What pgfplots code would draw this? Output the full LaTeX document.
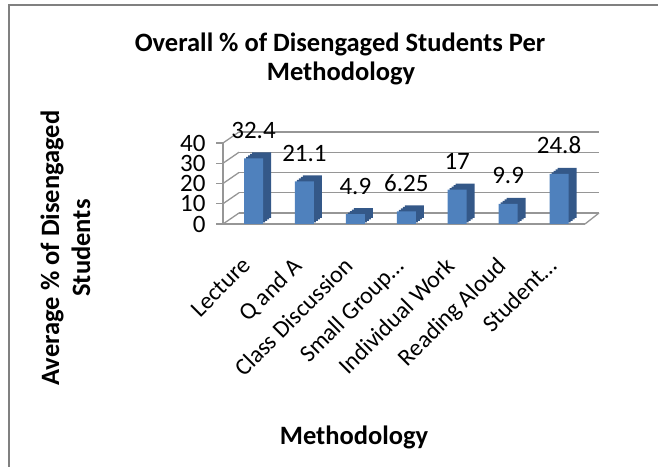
\documentclass[border=0pt]{standalone}
\usepackage{pgfplots}
\pgfplotsset{compat=1.18}
\usepackage{pgfplotstable}
\usepackage{fontspec}
\setmainfont{Carlito}
\definecolor{barfront}{RGB}{79,129,189}
\definecolor{barside}{RGB}{52,88,136}
\definecolor{gridc}{RGB}{150,150,150}
\definecolor{framec}{RGB}{128,128,128}

\pgfplotstableread{
x val
0 32.4
1 21.1
2 4.9
3 6.25
4 17
5 9.9
6 24.8
}\datatable

\newcommand{\fs}{\fontsize{25bp}{29bp}\selectfont}
\newcommand{\fx}{\fontsize{24bp}{28bp}\selectfont}
\newcommand{\fb}{\fontsize{26.5bp}{31bp}\selectfont\bfseries}

\begin{document}
\begin{tikzpicture}[x=1bp,y=1bp]
\useasboundingbox (0,0) rectangle (658,467);
\draw[framec, line width=2bp] (9,-5) -- (9,462) -- (665,462);

% back wall gridlines
\begin{axis}[
  at={(239bp,254bp)}, anchor=south west,
  scale only axis, width=360bp, height=81bp,
  xmin=-0.6, xmax=6.51, ymin=0, ymax=40,
  ytick={0,10,20,30,40}, yticklabels={}, xtick=\empty,
  ymajorgrids, grid style={gridc, line width=1.3bp},
  axis line style={draw=none}, major tick style={draw=none},
]
\end{axis}

% front axis with bars
\begin{axis}[
  at={(223bp,243bp)}, anchor=south west,
  scale only axis, width=362bp, height=81bp,
  xmin=-0.6, xmax=6.51, ymin=0, ymax=40,
  clip=false,
  /pgf/number format/assume math mode=true,
  axis lines*=left,
  axis line style={gridc, line width=1.3bp},
  ytick={0,10,20,30,40},
  ytick style={gridc, line width=1.3bp},
  tick align=outside, major tick length=7bp,
  yticklabel style={font=\fs, xshift=-7bp},
  xtick={0,1,2,3,4,5,6},
  xticklabels={Lecture, Q and A, Class Discussion, Small Group\ldots, Individual Work, Reading Aloud, Student\ldots},
  xtick style={draw=none},
  xticklabel style={font=\fx, rotate=45, anchor=north east, yshift=-5bp, xshift=-23bp},
]
\pgfplotsinvokeforeach{0,10,20,30,40}{
  \draw[gridc, line width=1.3bp] (axis cs:-0.6,#1) -- ++(16bp,11bp);
}
\draw[gridc, line width=1.3bp] (axis cs:6.51,0) -- ++(14bp,11bp);
\addplot[ybar, bar width=19bp, fill=barside, draw=none, bar shift=2bp, yshift=1.5bp] table[x=x,y=val] {\datatable};
\addplot[ybar, bar width=19bp, fill=barside, draw=none, bar shift=4bp, yshift=3bp] table[x=x,y=val] {\datatable};
\addplot[ybar, bar width=19bp, fill=barside, draw=none, bar shift=6bp, yshift=4.5bp] table[x=x,y=val] {\datatable};
\addplot[ybar, bar width=19bp, fill=barside, draw=none, bar shift=8bp, yshift=6bp] table[x=x,y=val] {\datatable};
\addplot[ybar, bar width=19bp, fill=barfront, draw=none, bar shift=0bp,
  nodes near coords, nodes near coords style={font=\fs, anchor=base, yshift=20bp, text=black}]
  table[x=x,y=val] {\datatable};
\end{axis}

\node[font=\fb, anchor=base] at (340,415) {Overall \% of Disengaged Students Per};
\node[font=\fb, anchor=base] at (341,386) {Methodology};
\node[font=\fb, anchor=base] at (354,22) {Methodology};
\node[font=\fb, anchor=base, rotate=90] at (59,219) {Average \% of Disengaged};
\node[font=\fb, anchor=base, rotate=90] at (90,219) {Students};
\end{tikzpicture}
\end{document}
